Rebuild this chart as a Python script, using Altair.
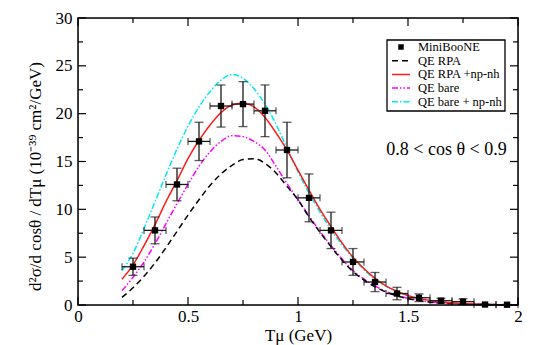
import altair as alt
import pandas as pd

# ---------------- data ----------------
x_curve = [0.2, 0.25, 0.3, 0.35, 0.4, 0.45, 0.5, 0.55, 0.6, 0.65, 0.7, 0.75, 0.8,
           0.85, 0.9, 0.95, 1.0, 1.05, 1.1, 1.15, 1.2, 1.25, 1.3, 1.35, 1.4, 1.45,
           1.5, 1.55, 1.6, 1.7, 1.8, 1.9, 2.0]

qe_rpa = [0.8, 1.8, 3.0, 4.4, 6.0, 7.7, 9.4, 11.0, 12.5, 13.7, 14.6, 15.2, 15.3,
          14.8, 13.8, 12.4, 11.0, 9.2, 7.6, 6.1, 4.7, 3.5, 2.6, 1.9, 1.35, 0.95,
          0.66, 0.45, 0.3, 0.14, 0.05, 0.02, 0.01]
qe_rpa_npnh = [2.7, 4.2, 6.2, 8.4, 10.8, 13.0, 15.3, 17.2, 18.8, 20.1, 20.9, 21.1, 20.7,
               19.6, 18.0, 16.2, 14.1, 12.0, 10.0, 8.2, 6.5, 5.0, 3.8, 2.8, 2.0, 1.45,
               1.0, 0.7, 0.48, 0.22, 0.1, 0.04, 0.02]
qe_bare = [1.5, 2.9, 4.5, 6.4, 8.5, 10.6, 12.6, 14.5, 16.0, 17.1, 17.7, 17.6, 17.1,
           16.2, 14.5, 12.7, 11.0, 9.3, 7.7, 6.2, 4.8, 3.6, 2.7, 2.0, 1.4, 1.0,
           0.7, 0.48, 0.32, 0.15, 0.06, 0.02, 0.01]
qe_bare_npnh = [3.6, 5.4, 8.0, 10.8, 13.6, 16.3, 18.7, 20.7, 22.3, 23.5, 24.1, 23.7, 22.6,
                21.0, 18.9, 16.4, 13.9, 11.7, 9.7, 7.9, 6.3, 4.9, 3.7, 2.7, 1.95, 1.4,
                0.95, 0.65, 0.45, 0.2, 0.09, 0.04, 0.02]

data_x = [0.25, 0.35, 0.45, 0.55, 0.65, 0.75, 0.85, 0.95, 1.05, 1.15, 1.25, 1.35,
          1.45, 1.55, 1.65, 1.75, 1.85, 1.95]
data_y = [4.0, 7.8, 12.6, 17.1, 20.8, 21.0, 20.3, 16.2, 11.2, 7.8, 4.5, 2.4,
          1.2, 0.76, 0.45, 0.35, 0.05, 0.03]
data_err = [0.9, 1.4, 1.7, 2.0, 2.2, 2.35, 2.7, 2.9, 2.5, 1.9, 1.4, 1.0,
            0.65, 0.4, 0.25, 0.3, 0.05, 0.03]
bin_half = 0.05

series_names = ["QE RPA", "QE RPA +np-nh", "QE bare", "QE bare + np-nh"]
series_vals = [qe_rpa, qe_rpa_npnh, qe_bare, qe_bare_npnh]
series_colors = ["#000000", "#ff1a1a", "#ff00ff", "#00e8f0"]
series_dash = [[6, 4], [1, 0], [6, 2, 1.5, 2, 1.5, 2], [6, 2, 1.5, 2]]
draw_order = [3, 2, 0, 1]

x_major = [0, 0.5, 1, 1.5, 2]
x_minor = [0.25, 0.75, 1.25, 1.75]
y_major = [0, 5, 10, 15, 20, 25, 30]
y_minor = [2.5, 7.5, 12.5, 17.5, 22.5, 27.5]

annotation = "0.8 < cos θ < 0.9"
y_title = "d²σ/d cosθ / dTμ (10⁻³⁹ cm²/GeV)"
x_title = "Tμ (GeV)"

# ---------------- layout ----------------
W, H = 440, 287
FONT = "serif"

xs = alt.Scale(domain=[0, 2], nice=False, zero=False)
ys = alt.Scale(domain=[0, 30], nice=False, zero=False)

x_axis = alt.Axis(values=x_major, format="~g", ticks=False, tickSize=0, domain=False, grid=False,
                  labelFont=FONT, labelFontSize=17, labelColor="black", labelPadding=3,
                  labelFlush=False, title=x_title, titleFont=FONT, titleFontSize=17,
                  titleFontWeight="normal", titleColor="black", titleBaseline="alphabetic",
                  titleY=35)
y_axis = alt.Axis(values=y_major, format="~g", ticks=False, tickSize=0, domain=False, grid=False,
                  labelFont=FONT, labelFontSize=17, labelColor="black", labelPadding=6,
                  labelFlush=False, title=y_title, titleFont=FONT, titleFontSize=17,
                  titleFontWeight="normal", titleColor="black", titleAngle=-90,
                  titleBaseline="middle", titleAlign="center", titleX=-43, titleY=158)


def X(f):
    return alt.X(f, scale=xs, axis=x_axis)


def Y(f):
    return alt.Y(f, scale=ys, axis=y_axis)


curve_df = pd.DataFrame({"x": x_curve})
for n, v in zip(series_names, series_vals):
    curve_df[n] = v

layers = []
for i in draw_order:
    n = series_names[i]
    layers.append(
        alt.Chart(curve_df).mark_line(color=series_colors[i], strokeDash=series_dash[i],
                                      strokeWidth=1.5, interpolate="monotone").encode(
            x=X("x:Q"), y=Y(f"{n}:Q"))
    )

pts = pd.DataFrame({"x": data_x, "y": data_y, "err": data_err})
pts["ylo"] = pts["y"] - pts["err"]
pts["yhi"] = pts["y"] + pts["err"]
pts["xlo"] = pts["x"] - bin_half
pts["xhi"] = pts["x"] + bin_half
EB = "#1a1a1a"
base = alt.Chart(pts)
layers += [
    base.mark_rule(color=EB, strokeWidth=1.3).encode(x=X("x:Q"), y=Y("ylo:Q"), y2="yhi:Q"),
    base.mark_rule(color=EB, strokeWidth=1.3).encode(x=X("xlo:Q"), x2="xhi:Q", y=Y("y:Q")),
    base.mark_tick(color=EB, orient="horizontal", size=9, thickness=1.3).encode(x=X("x:Q"), y=Y("ylo:Q")),
    base.mark_tick(color=EB, orient="horizontal", size=9, thickness=1.3).encode(x=X("x:Q"), y=Y("yhi:Q")),
    base.mark_tick(color=EB, orient="vertical", size=7, thickness=1.3).encode(x=X("xlo:Q"), y=Y("y:Q")),
    base.mark_tick(color=EB, orient="vertical", size=7, thickness=1.3).encode(x=X("xhi:Q"), y=Y("y:Q")),
    base.mark_square(color="black", size=40, opacity=1).encode(x=X("x:Q"), y=Y("y:Q")),
]


# inward ticks on all four sides
def xticks(vals, length):
    c = alt.Chart(pd.DataFrame({"v": vals}))
    return [
        c.mark_rule(color="black", strokeWidth=1.2).encode(
            x=X("v:Q"), y=alt.value(H), y2=alt.value(H - length)),
        c.mark_rule(color="black", strokeWidth=1.2).encode(
            x=X("v:Q"), y=alt.value(0), y2=alt.value(length)),
    ]


def yticks(vals, length):
    c = alt.Chart(pd.DataFrame({"v": vals}))
    return [
        c.mark_rule(color="black", strokeWidth=1.2).encode(
            y=Y("v:Q"), x=alt.value(0), x2=alt.value(length)),
        c.mark_rule(color="black", strokeWidth=1.2).encode(
            y=Y("v:Q"), x=alt.value(W), x2=alt.value(W - length)),
    ]


layers += xticks(x_major, 8) + xticks(x_minor, 5) + yticks(y_major, 8) + yticks(y_minor, 5)

# frame
one = pd.DataFrame({"a": [0]})
layers.append(alt.Chart(one).mark_rect(fill=None, fillOpacity=0, stroke="black", strokeWidth=1.5).encode(
    x=alt.value(0), x2=alt.value(W), y=alt.value(0), y2=alt.value(H)))

# annotation
ann = pd.DataFrame({"x": [1.675], "y": [16.2], "t": [annotation]})
layers.append(alt.Chart(ann).mark_text(font=FONT, fontSize=18, color="black",
                                       align="center", baseline="middle").encode(
    x=X("x:Q"), y=Y("y:Q"), text="t:N"))

# legend (drawn manually)
LX0, LX1, LY0, LY1 = 309, 427, 22, 93
layers.append(alt.Chart(one).mark_rect(fill="white", stroke="black", strokeWidth=1.3).encode(
    x=alt.value(LX0), x2=alt.value(LX1), y=alt.value(LY0), y2=alt.value(LY1)))
row_y0, row_dy = 29, 13.7
sym_x0, sym_x1, txt_x = 314, 332, 340
legend_labels = ["MiniBooNE"] + series_names
layers.append(alt.Chart(one).mark_square(color="black", size=30, opacity=1).encode(
    x=alt.value((sym_x0 + sym_x1) / 2), y=alt.value(row_y0)))
for k, n in enumerate(series_names):
    yy = row_y0 + row_dy * (k + 1)
    layers.append(alt.Chart(one).mark_rule(color=series_colors[k], strokeDash=series_dash[k],
                                           strokeWidth=1.5).encode(
        x=alt.value(sym_x0), x2=alt.value(sym_x1), y=alt.value(yy)))
for k, lab in enumerate(legend_labels):
    yy = row_y0 + row_dy * k
    layers.append(alt.Chart(pd.DataFrame({"t": [lab]})).mark_text(
        font=FONT, fontSize=12.5, color="black", align="left", baseline="middle").encode(
        x=alt.value(txt_x), y=alt.value(yy), text="t:N"))

chart = alt.layer(*layers).properties(
    width=W, height=H,
    autosize=alt.AutoSizeParams(type="none"),
    padding={"left": 70, "top": 10, "right": 20, "bottom": 40},
).configure_view(stroke=None).configure(background="white")

chart.save("out.html", embed_options={"renderer": "svg", "actions": False})
